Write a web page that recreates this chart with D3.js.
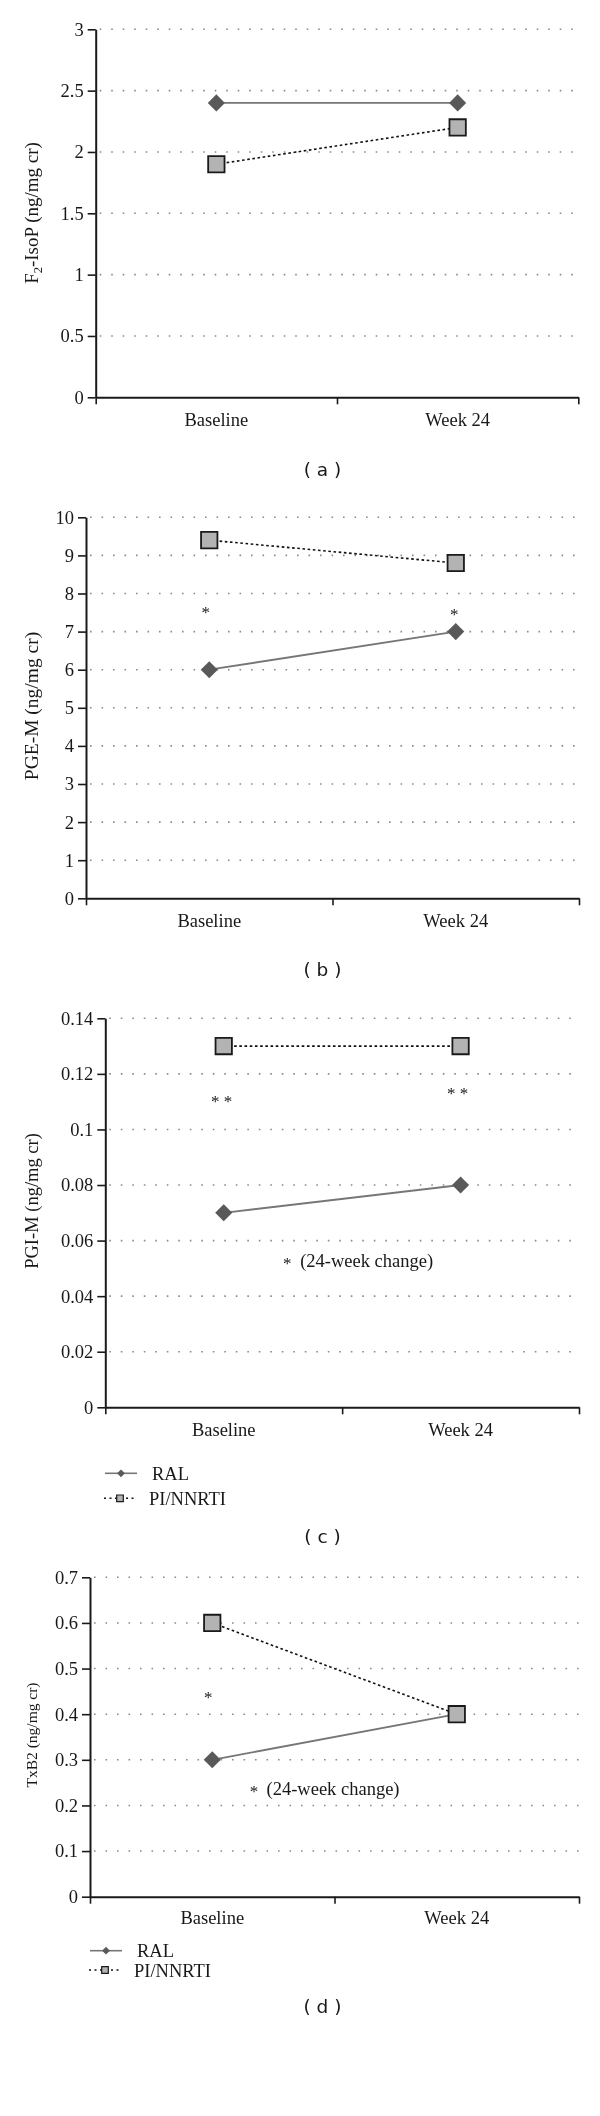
<!DOCTYPE html>
<html>
<head>
<meta charset="utf-8">
<script src="https://cdn.jsdelivr.net/npm/d3@7"></script>
<style>
  html, body { margin: 0; padding: 0; background: #fff; }
  svg { display: block; will-change: transform; }
</style>
</head>
<body>
<script>
// ---------------- data ----------------
const categories = ["Baseline", "Week 24"];
const seriesNames = ["RAL", "PI/NNRTI"];

const f2isopRAL = [2.4, 2.4];
const f2isopPI  = [1.9, 2.2];
const pgemRAL = [6.0, 7.0];
const pgemPI  = [9.4, 8.8];
const pgimRAL = [0.07, 0.08];
const pgimPI  = [0.13, 0.13];
const txb2RAL = [0.3, 0.4];
const txb2PI  = [0.6, 0.4];

const f2isopTicks = [0, 0.5, 1, 1.5, 2, 2.5, 3];
const pgemTicks   = [0, 1, 2, 3, 4, 5, 6, 7, 8, 9, 10];
const pgimTicks   = [0, 0.02, 0.04, 0.06, 0.08, 0.1, 0.12, 0.14];
const txb2Ticks   = [0, 0.1, 0.2, 0.3, 0.4, 0.5, 0.6, 0.7];

const panelLetters = ["a", "b", "c", "d"];

// significance marks: text, category, value (vertical position in data units)
const pgemMarks = [{ text: "*", cat: "Baseline", value: 7.57 }, { text: "*", cat: "Week 24", value: 7.52 }];
const pgimMarks = [{ text: "* *", cat: "Baseline", value: 0.111 }, { text: "* *", cat: "Week 24", value: 0.114 }];
const txb2Marks = [{ text: "*", cat: "Baseline", value: 0.442 }];
const changeNote = "(24-week change)";
const pgimNoteValue = 0.0525;
const txb2NoteValue = 0.235;

// ---------------- layout / drawing ----------------
const W = 600, H = 2116;
const SERIF = "'Liberation Serif', 'Times New Roman', serif";
const SANS = "'DejaVu Sans', Verdana, sans-serif";
const TXT = "#1a1718";

const svg = d3.select("body").append("svg")
  .attr("width", W).attr("height", H)
  .attr("viewBox", `0 0 ${W} ${H}`);
svg.append("rect").attr("width", W).attr("height", H).attr("fill", "#fff");

const panels = [
  { letter: panelLetters[0], ral: f2isopRAL, pi: f2isopPI, ticks: f2isopTicks, domain: [0, 3],
    left: 95.7, right: 578.3, top: 29.3, bottom: 397.3, titleFs: 19, titleX: 38, titleCY: 213,
    title: "f2", catPad: 16, labelY: 476, marks: [], note: null, legend: null },
  { letter: panelLetters[1], ral: pgemRAL, pi: pgemPI, ticks: pgemTicks, domain: [0, 10],
    left: 86, right: 579, top: 517.3, bottom: 898.3, titleFs: 19.5, titleX: 38, titleCY: 706,
    title: "PGE-M (ng/mg cr)", catPad: 16, labelY: 976, marks: pgemMarks, markDx: [-3.5, -1.5], note: null, legend: null },
  { letter: panelLetters[2], ral: pgimRAL, pi: pgimPI, ticks: pgimTicks, domain: [0, 0.14],
    left: 105.3, right: 579, top: 1018.3, bottom: 1407.3, titleFs: 18.5, titleX: 38, titleCY: 1201,
    title: "PGI-M (ng/mg cr)", catPad: 16, labelY: 1543, marks: pgimMarks, markDx: [-2, -3],
    note: { value: pgimNoteValue, astDx: -55, textDx: -42 }, legend: { x: 105, y1: 1473.3, y2: 1498.3 } },
  { letter: panelLetters[3], ral: txb2RAL, pi: txb2PI, ticks: txb2Ticks, domain: [0, 0.7],
    left: 90, right: 579, top: 1577.3, bottom: 1896.7, titleFs: 15.5, titleX: 36.5, titleCY: 1735,
    title: "TxB2 (ng/mg cr)", catPad: 14, labelY: 2013, marks: txb2Marks, markDx: [-4],
    note: { value: txb2NoteValue, astDx: -80.5, textDx: -68 }, legend: { x: 90, y1: 1950.7, y2: 1970 } }
];

const diamondPath = d3.symbol().type(d3.symbolSquare).size(146)();
const squarePath = d3.symbol().type(d3.symbolSquare).size(268)();
const legDiamondPath = d3.symbol().type(d3.symbolSquare).size(30)();
const legSquarePath = d3.symbol().type(d3.symbolSquare).size(44)();

const RAL_LINE = "#767676", DIAMOND_FILL = "#595959", SQUARE_FILL = "#b3b3b3", SQUARE_STROKE = "#1a1a1a";

panels.forEach(p => {
  const g = svg.append("g");
  const x = d3.scaleBand().domain(categories).range([p.left, p.right]);
  const cx = c => x(c) + x.bandwidth() / 2;
  const y = d3.scaleLinear().domain(p.domain).range([p.bottom, p.top]);
  const bounds = d3.scaleLinear().domain([0, categories.length]).range([p.left, p.right]);

  // dotted gridlines
  g.append("g").selectAll("line").data(p.ticks.filter(t => t > 0)).join("line")
    .attr("x1", p.left + 4).attr("x2", p.right)
    .attr("y1", d => y(d)).attr("y2", d => y(d))
    .attr("stroke", "#8a8a8a").attr("stroke-width", 1.6)
    .attr("stroke-dasharray", "1.6,9.9");

  // y axis
  const ya = g.append("g").attr("transform", `translate(${p.left},0)`)
    .call(d3.axisLeft(y).tickValues(p.ticks).tickFormat(d => String(d))
      .tickSize(8).tickSizeOuter(0).tickPadding(4));
  ya.attr("font-family", SERIF).attr("font-size", 18.5);
  ya.select(".domain").attr("stroke", "#1a1a1a").attr("stroke-width", 2);
  ya.selectAll(".tick line").attr("stroke", "#1a1a1a").attr("stroke-width", 1.6);
  ya.selectAll(".tick text").attr("font-family", SERIF).attr("font-size", 18.5).attr("fill", TXT);

  // x axis line with boundary ticks
  const xb = g.append("g").attr("transform", `translate(0,${p.bottom})`)
    .call(d3.axisBottom(bounds).tickValues(d3.range(0, categories.length + 1))
      .tickFormat("").tickSize(7).tickSizeOuter(0));
  xb.select(".domain").attr("stroke", "#1a1a1a").attr("stroke-width", 2);
  xb.selectAll(".tick line").attr("stroke", "#1a1a1a").attr("stroke-width", 1.6);

  // category labels
  const xa = g.append("g").attr("transform", `translate(0,${p.bottom})`)
    .call(d3.axisBottom(x).tickSize(0).tickPadding(p.catPad));
  xa.attr("font-family", SERIF).attr("font-size", 18.5);
  xa.select(".domain").remove();
  xa.selectAll(".tick text").attr("font-family", SERIF).attr("font-size", 18.5).attr("fill", TXT);

  // y title
  const tt = g.append("text")
    .attr("transform", `translate(${p.titleX},${p.titleCY}) rotate(-90)`)
    .attr("text-anchor", "middle")
    .attr("font-family", SERIF).attr("font-size", p.titleFs).attr("fill", TXT);
  if (p.title === "f2") {
    tt.append("tspan").text("F");
    tt.append("tspan").attr("dy", 4).attr("font-size", 12.5).text("2");
    tt.append("tspan").attr("dy", -4).text("-IsoP (ng/mg cr)");
  } else {
    tt.text(p.title);
  }

  // series lines
  const line = d3.line().x((d, i) => cx(categories[i])).y(d => y(d));
  g.append("path").datum(p.ral).attr("d", line)
    .attr("fill", "none").attr("stroke", RAL_LINE).attr("stroke-width", 1.8);
  g.append("path").datum(p.pi).attr("d", line)
    .attr("fill", "none").attr("stroke", "#111").attr("stroke-width", 1.6)
    .attr("stroke-dasharray", "2.6,2.6");

  // markers
  g.append("g").selectAll("path").data(p.ral).join("path")
    .attr("d", diamondPath)
    .attr("transform", (d, i) => `translate(${cx(categories[i])},${y(d)}) rotate(45)`)
    .attr("fill", DIAMOND_FILL);
  g.append("g").selectAll("path").data(p.pi).join("path")
    .attr("d", squarePath)
    .attr("transform", (d, i) => `translate(${cx(categories[i])},${y(d)})`)
    .attr("fill", SQUARE_FILL).attr("stroke", SQUARE_STROKE).attr("stroke-width", 1.8);

  // significance marks
  const AFS = 17;
  g.append("g").selectAll("text").data(p.marks).join("text")
    .attr("x", (d, i) => cx(d.cat) + p.markDx[i])
    .attr("y", d => y(d.value) + 0.47 * AFS)
    .attr("text-anchor", "middle")
    .attr("font-family", SERIF).attr("font-size", AFS).attr("fill", TXT)
    .attr("xml:space", "preserve")
    .text(d => d.text);

  // 24-week change note
  if (p.note) {
    const mid = bounds(1);
    const ny = y(p.note.value);
    g.append("text")
      .attr("x", mid + p.note.astDx).attr("y", ny + 0.47 * AFS)
      .attr("text-anchor", "middle")
      .attr("font-family", SERIF).attr("font-size", AFS).attr("fill", TXT)
      .text("*");
    g.append("text")
      .attr("x", mid + p.note.textDx).attr("y", ny + 5.5)
      .attr("font-family", SERIF).attr("font-size", 18.5).attr("fill", TXT)
      .text(changeNote);
  }

  // legend
  if (p.legend) {
    const L = p.legend;
    const lg = g.append("g");
    lg.append("line").attr("x1", L.x).attr("x2", L.x + 32).attr("y1", L.y1).attr("y2", L.y1)
      .attr("stroke", RAL_LINE).attr("stroke-width", 1.6);
    lg.append("path").attr("d", legDiamondPath)
      .attr("transform", `translate(${L.x + 16},${L.y1}) rotate(45)`).attr("fill", DIAMOND_FILL);
    lg.append("text").attr("x", L.x + 47).attr("y", L.y1 + 6.5)
      .attr("font-family", SERIF).attr("font-size", 18.5).attr("fill", TXT).text(seriesNames[0]);
    lg.append("line").attr("x1", L.x - 1).attr("x2", L.x + 32).attr("y1", L.y2).attr("y2", L.y2)
      .attr("stroke", "#111").attr("stroke-width", 1.4).attr("stroke-dasharray", "2,3.5");
    lg.append("path").attr("d", legSquarePath)
      .attr("transform", `translate(${L.x + 15},${L.y2})`)
      .attr("fill", SQUARE_FILL).attr("stroke", SQUARE_STROKE).attr("stroke-width", 1.2);
    lg.append("text").attr("x", L.x + 44).attr("y", L.y2 + 6.5)
      .attr("font-family", SERIF).attr("font-size", 18.5).attr("fill", TXT).text(seriesNames[1]);
  }

  // panel label
  g.append("text").attr("x", 322.5).attr("y", p.labelY)
    .attr("text-anchor", "middle")
    .attr("font-family", SANS).attr("font-size", 18.5).attr("fill", TXT)
    .attr("xml:space", "preserve")
    .text(`( ${p.letter} )`);
});
</script>
</body>
</html>
